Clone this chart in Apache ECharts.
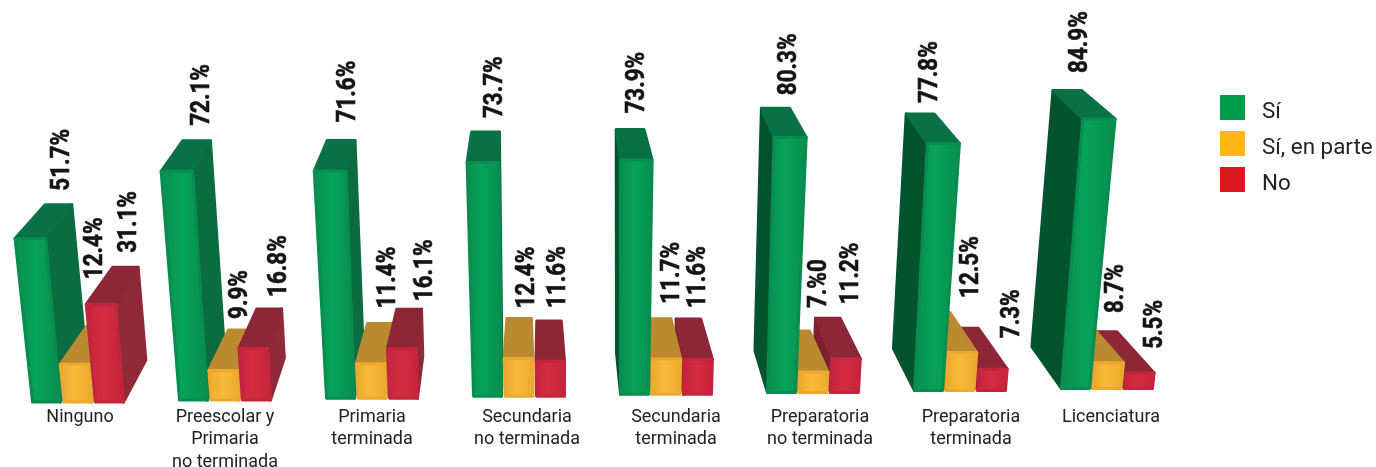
<!DOCTYPE html>
<html><head><meta charset="utf-8">
<style>html,body{margin:0;padding:0;background:#fff}#c{width:1376px;height:467px}</style>
<script src="https://cdn.jsdelivr.net/npm/echarts@6/dist/echarts.min.js"></script>
</head><body><div id="c"></div>
<script>
const categories = ['Ninguno','Preescolar y\nPrimaria\nno terminada','Primaria\nterminada','Secundaria\nno terminada','Secundaria\nterminada','Preparatoria\nno terminada','Preparatoria\nterminada','Licenciatura'];
const si      = [51.7,72.1,71.6,73.7,73.9,80.3,77.8,84.9];
const enParte = [12.4,9.9,11.4,12.4,11.7,7.0,12.5,8.7];
const no      = [31.1,16.8,16.1,11.6,11.6,11.2,7.3,5.5];
const siLabels      = ['51.7%','72.1%','71.6%','73.7%','73.9%','80.3%','77.8%','84.9%'];
const enParteLabels = ['12.4%','9.9%','11.4%','12.4%','11.7%','7.%0','12.5%','8.7%'];
const noLabels      = ['31.1%','16.8%','16.1%','11.6%','11.6%','11.2%','7.3%','5.5%'];

const catNudge = [2,0,0,8,10,7,11,4];
const labelNudge = [
 [[-2,-1],[0,-2],[1,-5],[4,-1],[1,-3],[8,0],[4,2],[7,-4.5]],
 [[-11.5,-32],[-5.6,2],[3,-2],[2,3],[8,-2],[16.5,-10],[28,-1.5],[35,4]],
 [[-2,-1.5],[4,1],[10,5],[4,0],[4.5,2],[18,-1],[40,23],[45,30]]
];
const BODY = 'Roboto,sans-serif';
const skins = [
 {legend:'#009b4b',edge:'#078d4f',mid:'#07a25c',top:'#0a7046',sideR:'#0a6c40',sideL:'#04532f'},
 {legend:'#fdb913',edge:'#eba92f',mid:'#f8b938',top:'#b98a30',sideR:'#bf8f33',sideL:'#b98a30'},
 {legend:'#d9181f',edge:'#c4243c',mid:'#d32c41',top:'#8d2636',sideR:'#8e2a39',sideL:'#7d2130'}
];
function renderer(si_, labels){
  const skin = skins[si_];
  return function(params, api){
    const c = api.value(0), v = api.value(1);
    const p0 = api.coord([c,0]), pv = api.coord([c,v]);
    const band = api.size([1,0])[0];
    const pitch = band*0.2143, w = band*0.19;
    const tilt = (p0[0]-78)*0.013;
    const xb = p0[0] + (si_-1)*pitch, yb = p0[1]-tilt-1, h = p0[1]-pv[1]-2;
    const lean = (xb-594)*1.8e-4;
    const grow = 1+0.0006*h;
    const bl=[xb-w/2,yb], br=[xb+w/2,yb];
    const tc = xb+lean*h, ty=yb-h;
    const tl=[tc-w*grow/2,ty], tr=[tc+w*grow/2,ty];
    const dx = -(xb-530)*0.058, dyT=-(42-0.05*h), dyB=-42;
    const dxL = dx+2, dxR = dx-2;
    const back=(p,ddx,dy)=>[p[0]+ddx,p[1]+dy];
    const z2 = 10 + (dx>0 ? si_ : 2-si_);
    const poly=(pts,fill,stroke)=>({type:'polygon',z2,silent:true,shape:{points:pts},style:{fill,stroke:stroke||fill,lineWidth:3,lineJoin:'round'}});
    const kids=[];
    if(dxR>0){kids.push(poly([br,tr,back(tr,dxR,dyT),back(br,dxR,dyB)],skin.sideR));}
    if(dxL<0){kids.push(poly([bl,tl,back(tl,dxL,dyT),back(bl,dxL,dyB)],skin.sideL));}
    kids.push(poly([tl,tr,back(tr,dxR,dyT),back(tl,dxL,dyT)],skin.top));
    kids.push(poly([bl,br,tr,tl],new echarts.graphic.LinearGradient(0,0,1,0,[{offset:0,color:skin.edge},{offset:.45,color:skin.mid},{offset:1,color:skin.edge}]),skin.edge));
    const n = labelNudge[si_][c];
    kids.push({type:'text',z2:30,silent:true,rotation:Math.PI/2,scaleX:0.88,x:tc+dx+6+n[0],y:ty+dyT-13+n[1],
      style:{text:labels[c],fontFamily:BODY,fontWeight:'bold',fontSize:25.5,fill:'#141414',stroke:'#141414',lineWidth:0.6,align:'left',verticalAlign:'middle'}});
    return {type:'group',children:kids};
  };
}
const names=['Sí','Sí, en parte','No'];
const arrays=[si,enParte,no], labelSets=[siLabels,enParteLabels,noLabels];
const chart=echarts.init(document.getElementById('c'),null,{renderer:'canvas'});
chart.setOption({
  animation:false,backgroundColor:'#fff',
  legend:{orient:'vertical',left:1220,top:95,padding:0,itemWidth:25,itemHeight:25,itemGap:7.5,icon:'rect',selectedMode:false,
    formatter:n=>'{a|'+n+'}',
    textStyle:{fontFamily:BODY,fontSize:22.4,color:'#222',padding:[0,0,0,12],
      rich:{a:{fontFamily:BODY,fontSize:22.4,color:'#222',padding:[10,0,0,0]}}},
    data:names.map((n,i)=>({name:n,itemStyle:{color:skins[i].legend}}))},
  grid:{left:4.5,top:83,width:1176,height:320,containLabel:false,outerBoundsMode:'none'},
  xAxis:{type:'category',data:categories.map((t,i)=>({value:t,textStyle:{padding:[0,0,0,2*catNudge[i]]}})),
    axisLine:{show:false},axisTick:{show:false},
    axisLabel:{interval:0,margin:3,fontFamily:BODY,fontSize:18,lineHeight:22.5,color:'#222'}},
  yAxis:{type:'value',min:0,max:100,show:false,splitLine:{show:false}},
  series:arrays.map((a,i)=>({type:'custom',name:names[i],clip:false,itemStyle:{color:skins[i].legend},
    encode:{x:0,y:1},renderItem:renderer(i,labelSets[i]),data:a.map((v,c)=>[c,v])}))
});
</script></body></html>
